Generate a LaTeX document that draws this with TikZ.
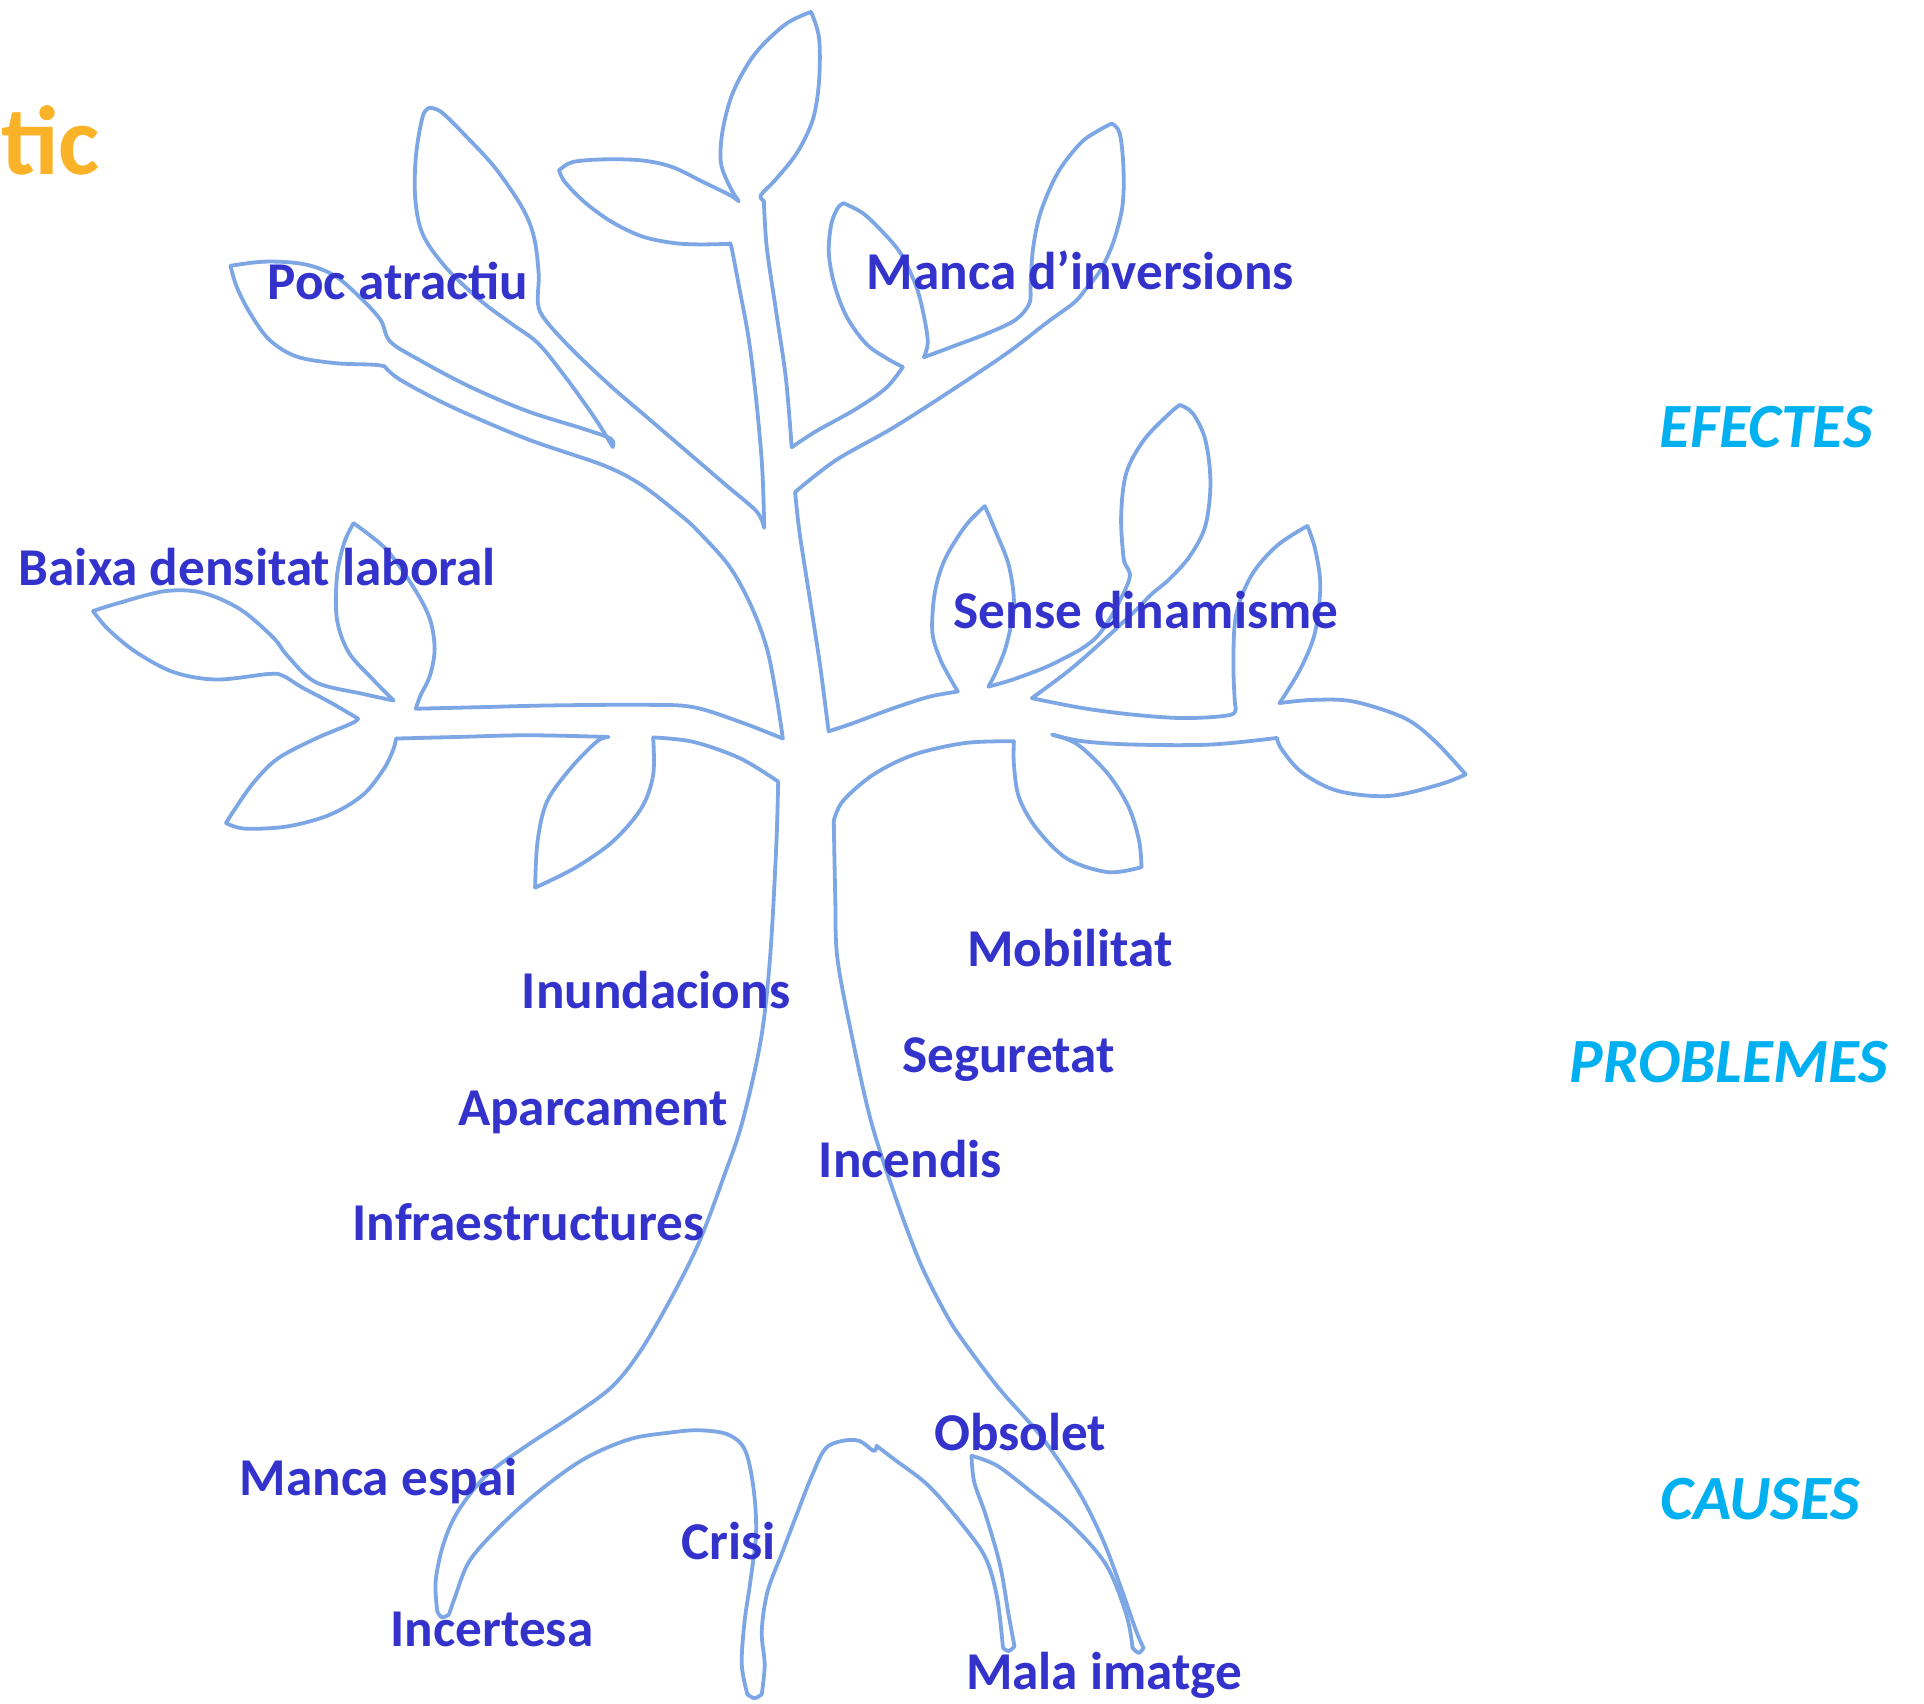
\documentclass[tikz,border=0pt]{standalone}
\usepackage{fontspec}
\setmainfont{Carlito}
\definecolor{lbl}{RGB}{51,51,204}
\definecolor{catc}{RGB}{0,176,240}
\definecolor{ttl}{RGB}{250,178,40}
\definecolor{treec}{RGB}{124,166,228}
\tikzset{
  lab/.style={anchor=base west,inner sep=0pt,text=lbl,font=\fontsize{26.6}{30}\selectfont\bfseries},
  catlab/.style={anchor=base west,inner sep=0pt,text=catc,font=\fontsize{31.5}{36}\selectfont\bfseries\itshape},
  treeline/.style={draw=treec,line width=1.9pt,line cap=round,line join=round},
  sm/.style={smooth,tension=0.55}
}
\begin{document}
\begin{tikzpicture}[x=0.6135pt,y=-0.6135pt]
\useasboundingbox (0,0) rectangle (1568,1388);
% ---------- tree outline ----------
\draw[treeline] plot[sm] coordinates {(634.2,637) (603.4,618.1) (565,604.6) (532.3,601)};
\draw[treeline] plot[sm] coordinates {(532.3,601) (532.3,631.6) (522.7,658.6) (499.6,685.6) (468.8,707.2) (436.1,723.4)};
\draw[treeline] plot[sm] coordinates {(436.1,723.4) (438.1,685.6) (445.8,653.2) (465,626.2) (486.1,604.6) (495.8,600.6)};
\draw[treeline] plot[sm] coordinates {(495.8,600.6) (430.4,599.2) (372.7,600.6) (322.7,601.9)};
\draw[treeline] plot[sm] coordinates {(322.7,601.9) (320.8,610) (313.1,626.2) (295.8,647.8) (268.8,664) (234.2,673.5) (199.6,675.3) (184.2,670.8)};
\draw[treeline] plot[sm] coordinates {(184.2,670.8) (191.9,658.6) (207.3,637) (226.5,618.1) (257.3,601.9) (286.1,589.8) (291.9,585.7)};
\draw[treeline] plot[sm] coordinates {(291.9,585.7) (268.8,572.2) (245.8,560) (230.4,550.6) (218.8,549.3) (176.5,553.8) (141.9,547.9) (111.2,531.7) (88.1,512.8) (75.8,498)};
\draw[treeline] plot[sm] coordinates {(75.8,498) (95.8,491.7) (134.2,481.8) (165,483.1) (195.8,496.6) (222.7,519.6) (234.2,534.4) (257.3,556) (295.8,565.5) (320.8,570.9)};
\draw[treeline] plot[sm] coordinates {(320.8,570.9) (303.5,553.3) (284.2,531.7) (274.6,504.7) (274.6,469.6) (280.4,442.6) (288.1,426.4)};
\draw[treeline] plot[sm] coordinates {(288.1,426.4) (315,448) (338.1,480.4) (350.4,504.7) (354.2,529) (350.4,550.6) (342.7,566.8) (338.8,577.6)};
\draw[treeline] plot[sm] coordinates {(338.8,577.6) (391.9,576.3) (449.6,574.9) (526.5,574.4) (565,576.3) (603.4,588.4) (638,601.9)};
\draw[treeline] plot[sm] coordinates {(638,601.9) (633,569) (625,528.5) (612,493.4) (594,461) (568,432) (554,419.4) (522.8,395.2) (491.5,379.1) (429,357.6) (366.5,330.8) (325.9,309.3) (313.4,298.5)};
\draw[treeline] plot[sm] coordinates {(313.4,298.5) (304,297.2) (272.8,295.9) (241.5,290.5) (219.6,277) (204,255.6) (193,234) (187.8,216.6)};
\draw[treeline] plot[sm] coordinates {(187.8,216.6) (216.5,213.2) (247.8,215.3) (272.8,224.7) (294.6,243.5) (310.3,261) (318,278.4) (341.5,293.2) (382,314.7) (429,334.8) (475.9,349.6) (497.8,357.6) (499.3,364.3)};
\draw[treeline] plot[sm] coordinates {(499.3,364.3) (485.3,341.5) (460.3,306.6) (438.4,279.7) (416.5,263.6) (391.5,244.8) (363.4,218) (344.6,191.1) (338.4,161.6) (339,126.7) (344.6,94.5) (350.3,87.8)};
\draw[treeline] plot[sm] coordinates {(350.3,87.8) (360.3,91.8) (382,113.3) (404,137.4) (425.9,169.7) (435.3,193.8) (439,223.4) (438.4,247.5) (444.6,261) (466.5,285.1) (497.8,314.7) (529,341.5) (560.3,368.4) (591.5,395.2) (616.5,416.7) (622.8,430.1)};
\draw[treeline] plot[sm] coordinates {(622.8,430.1) (621.2,381.8) (616.5,328) (610.3,277) (602.4,234.1) (596.2,201.9) (594.6,198.7)};
\draw[treeline] plot[sm] coordinates {(594.6,198.7) (569.6,199.2) (547.8,197.9) (522.8,192.5) (497.8,180.4) (475.9,164.3) (460.3,148.2) (455.6,138.8)};
\draw[treeline] plot[sm] coordinates {(455.6,138.8) (466.5,132.1) (491.5,129.9) (522.8,130.7) (547.8,136.1) (572.8,148.2) (594.6,158.9) (602,164)};
\draw[treeline] plot[sm] coordinates {(602,164) (595,152.5) (587.5,132.6) (589,106) (597.5,75) (615,44.2) (640,19.9) (661,9.7)};
\draw[treeline] plot[sm] coordinates {(661,9.7) (667.5,31) (667.5,66.3) (662.5,97.2) (650,123.8) (632.5,145.9) (620,159.1) (622.5,163.5)};
\draw[treeline] plot[sm] coordinates {(622.5,163.5) (624.9,201.7) (632.7,255) (640.5,308.5) (645.2,364.5)};
\draw[treeline] plot[sm] coordinates {(645.2,364.5) (665.5,351.2) (696.8,333.8) (721.8,316.5) (735.8,299.1)};
\draw[treeline] plot[sm] coordinates {(735.8,299.1) (723.3,292.4) (706.1,280.4) (690.5,259) (680.5,233.7) (675.5,207) (677.4,183) (682.7,169.6) (687.4,165.6)};
\draw[treeline] plot[sm] coordinates {(687.4,165.6) (703,173.6) (718.6,188.3) (734.3,207) (746.8,233.7) (753,257.7) (756.1,279) (753,291.1)};
\draw[treeline] plot[sm] coordinates {(753,291.1) (778,281.8) (806.1,271.1) (828,260.4) (839,247) (839.9,231) (842,201.7) (848.3,172.3) (862.4,140.2) (881.1,116.2) (896.8,105.5) (906.1,100.7)};
\draw[treeline] plot[sm] coordinates {(906.1,100.7) (912.4,108.2) (915.5,134.9) (914.9,166.9) (907.7,196.3) (896.8,220.3) (884.3,236.4) (874.9,247) (853,263) (821.8,287) (778,316.5) (728,348.5) (681,375.2) (648,401)};
\draw[treeline] plot[sm] coordinates {(648,401) (651.6,434) (660,488) (668.3,542) (674.5,590) (675.3,596)};
\draw[treeline] plot[sm] coordinates {(675.3,596) (695.3,589.3) (728.6,577) (757.7,567.7) (780.6,563.6)};
\draw[treeline] plot[sm] coordinates {(780.6,563.6) (774.3,552.8) (766,536.6) (759.8,515) (761.9,482.6) (770.2,455.6) (786.8,428.6) (802.6,412.4)};
\draw[treeline] plot[sm] coordinates {(802.6,412.4) (811.8,434) (822.2,461) (826.3,493.4) (820.1,525.8) (811.8,547.4) (805.5,559.6)};
\draw[treeline] plot[sm] coordinates {(805.5,559.6) (828.4,552.8) (861.7,539.3) (895,517.7) (920,473.2) (915.8,455.6) (913.7,420.5) (917.9,385.4) (932.4,358.4) (953.2,336.8) (961.5,330)};
\draw[treeline] plot[sm] coordinates {(961.5,330) (972,336.8) (982.3,358.4) (986.5,393.5) (982.3,428.6) (969.9,452.9) (953.2,471.8) (938.7,484) (924.1,498.8) (895,525.8) (870,547.4) (840.9,569)};
\draw[treeline] plot[sm] coordinates {(840.9,569) (882.5,577.1) (924.1,582.5) (965.7,585.2) (1003.1,582.5) (1006.5,574.4)};
\draw[treeline] plot[sm] coordinates {(1006.5,574.4) (1005.2,542) (1007.3,501.5) (1019.8,469.1) (1040.6,444.8) (1065.5,428.6)};
\draw[treeline] plot[sm] coordinates {(1065.5,428.6) (1071.8,447.5) (1076,477.2) (1071.8,515) (1061.4,542) (1048.9,563.6) (1042.7,573)};
\draw[treeline] plot[sm] coordinates {(1042.7,573) (1069.7,570.4) (1103,571.7) (1144.6,585.2) (1169.5,604.1) (1194.5,631.1)};
\draw[treeline] plot[sm] coordinates {(1194.5,631.1) (1173.7,639.2) (1132.1,648.7) (1090.5,644.6) (1061.4,629.8) (1044.7,610.9) (1040.6,601.4)};
\draw[treeline] plot[sm] coordinates {(1040.6,601.4) (986.5,606.8) (924.1,606.8) (882.5,604.1) (857.5,598.7)};
\draw[treeline] plot[sm] coordinates {(857.5,598.7) (878.3,606.8) (903.3,631.1) (920,658.1) (928.3,685.1) (930.3,706.7)};
\draw[treeline] plot[sm] coordinates {(930.3,706.7) (903.3,710.8) (870,700) (845.1,675.7) (830.5,650) (826.3,623) (826.3,604.1)};
\draw[treeline] plot[sm] coordinates {(826.3,604.1) (786.8,605.5) (745.2,614.9) (712,631.1) (687,652.7) (679.5,668.9)};
\draw[treeline] plot[sm] coordinates {(679.5,668.9) (680.7,731) (682.5,781.4) (695,847.8) (710,914.3) (730,976.3) (750,1029.4) (770,1069.3) (784,1091.5) (814,1131.3) (849,1171.2) (879,1215.5) (899,1255.4) (914,1295.2) (926.5,1330.7) (932,1343)};
\draw[treeline] plot[sm] coordinates {(932,1343) (928,1347) (923,1343)};
\draw[treeline] plot[sm] coordinates {(923,1343) (918,1316) (901.6,1275.5) (873.6,1243) (840.8,1216.1) (812.7,1194.5) (791.7,1186.4)};
\draw[treeline] plot[sm] coordinates {(791.7,1186.4) (794,1208) (803.4,1235) (815,1275.5) (822,1316) (826.8,1341.7)};
\draw[treeline] plot[sm] coordinates {(826.8,1341.7) (822,1345.5) (817.4,1343)};
\draw[treeline] plot[sm] coordinates {(817.4,1343) (812.7,1302.5) (803.4,1270) (784.6,1243) (756.6,1210.7) (728.5,1189.1) (714.4,1178.3)};
\draw[treeline] plot[sm] coordinates {(714.4,1178.3) (712,1182.4) (700.4,1174.3) (686.4,1174.3) (672.3,1181) (660.6,1205.3) (649,1235) (637.7,1264.7) (625.5,1297.1) (620.8,1329.5) (623.2,1356.5) (620.8,1380.8)};
\draw[treeline] plot[sm] coordinates {(620.8,1380.8) (615,1384) (609.1,1380.8)};
\draw[treeline] plot[sm] coordinates {(609.1,1380.8) (604.5,1356.5) (606.8,1321.4) (611.5,1289) (616.2,1248.5) (613.8,1210.7) (606.8,1181) (592.8,1168.9) (569.4,1165.6) (546,1167.5) (513.2,1172.9) (475.8,1189.1) (438.3,1216.1) (405.6,1245.8) (382.2,1272.8) (370.5,1302.5) (365.8,1316)};
\draw[treeline] plot[sm] coordinates {(365.8,1316) (360,1318) (356.4,1313.3)};
\draw[treeline] plot[sm] coordinates {(356.4,1313.3) (355,1289) (361.1,1259.3) (372.8,1232.3) (396.2,1202.6) (429,1178.3) (466.4,1154) (499.2,1129.7) (522.6,1100) (548,1056) (570,1011.7) (590,958.6) (605,914.3) (620,847.8) (627.5,781.4) (632.5,692.75) (634.2,637)};
% ---------- labels ----------
\node[anchor=base west,inner sep=0pt,text=ttl,font=\fontsize{49}{56}\selectfont\bfseries] (title) at (1,142) {tic};
\node[lab] (poc) at (218,244) {Poc atractiu};
\node[lab] (manca) at (706,236) {Manca d’inversions};
\node[lab] (baixa) at (15,477) {Baixa densitat laboral};
\node[lab] (sense) at (777,512) {Sense dinamisme};
\node[lab] (mobi) at (788,788) {Mobilitat};
\node[lab] (inund) at (425,822) {Inundacions};
\node[lab] (segur) at (735,874) {Seguretat};
\node[lab] (aparc) at (373,917) {Aparcament};
\node[lab] (incen) at (667,960) {Incendis};
\node[lab] (infra) at (287,1011) {Infraestructures};
\node[lab] (obso) at (761,1182) {Obsolet};
\node[lab] (espai) at (195,1219) {Manca espai};
\node[lab] (crisi) at (555,1271) {Crisi};
\node[lab] (incert) at (318,1342) {Incertesa};
\node[lab] (mala) at (787,1377) {Mala imatge};
\node[catlab] (efec) at (1352,365) {EFECTES};
\node[catlab] (prob) at (1279,882) {PROBLEMES};
\node[catlab] (caus) at (1353,1238) {CAUSES};
\end{tikzpicture}
\end{document}
